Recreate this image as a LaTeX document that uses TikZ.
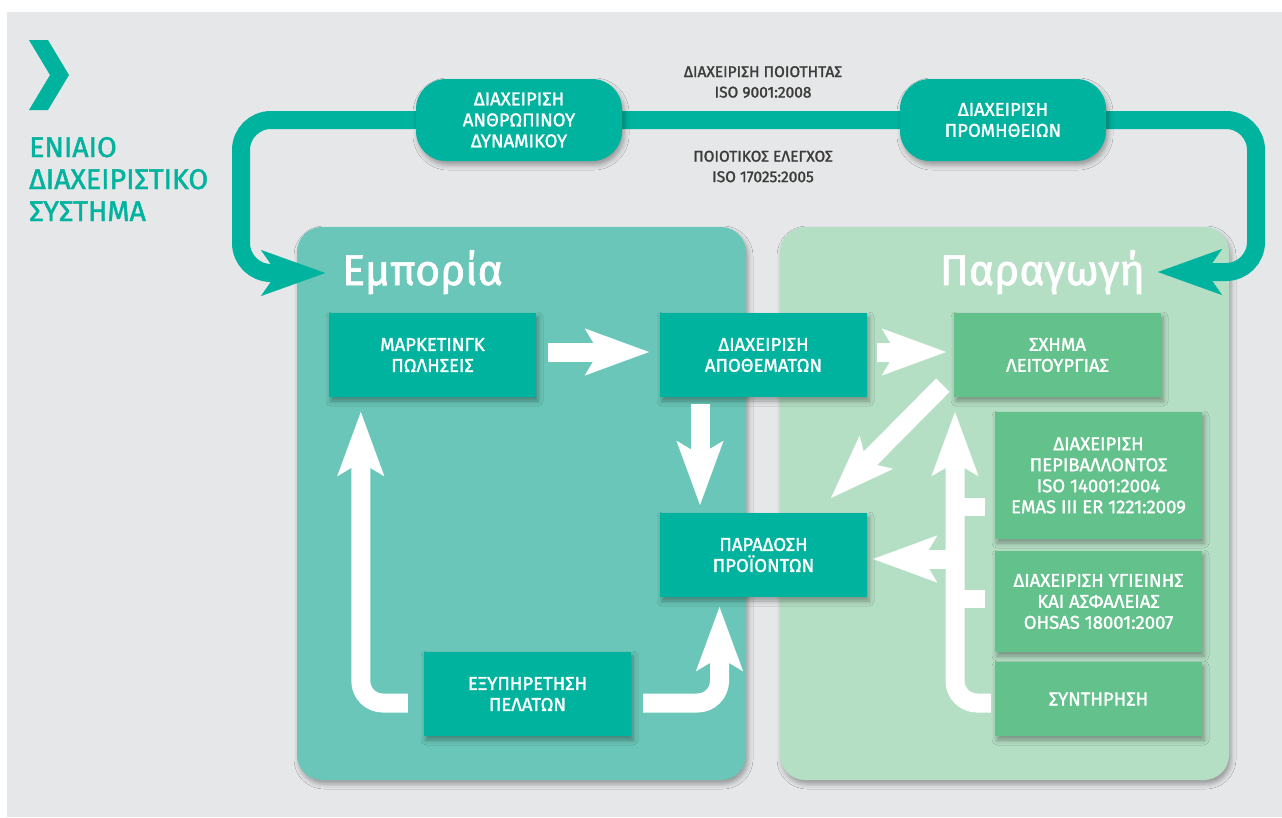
\documentclass[tikz,border=0pt]{standalone}
\usepackage{fontspec}
\setmainfont{Fira Sans}[UprightFeatures={FakeBold=1.6}]
\usetikzlibrary{arrows.meta,shadows.blur,calc}
\definecolor{bgc}{HTML}{E6E7E8}
\definecolor{tealc}{HTML}{00B39E}
\definecolor{empc}{HTML}{69C6B8}
\definecolor{parc}{HTML}{B5DFC4}
\definecolor{grnc}{HTML}{63C18C}
\definecolor{txtc}{HTML}{3C3C3B}
\tikzset{
  shd/.style={blur shadow={shadow xshift=2pt,shadow yshift=-4pt,shadow blur radius=5pt,shadow opacity=35}},
  box/.style={rectangle, fill=tealc, text=white, minimum width=207pt, minimum height=84pt,
    inner sep=0pt, align=center, font=\fontsize{18.5}{21}\selectfont, shd},
  gbox/.style={box, fill=grnc},
  rbox/.style={box, rounded corners=30pt, minimum width=206pt, minimum height=82pt},
  panel/.style={rectangle, rounded corners=25pt, inner sep=0pt, shd},
  wa/.style={draw=white, line width=19pt,
    -{Stealth[length=64pt,width=47pt,inset=14pt,line width=0.1pt]}},
  wac/.style={wa, rounded corners=22pt},
  stub/.style={draw=white, line width=18pt},
  loopline/.style={draw=tealc, line width=18pt, rounded corners=30pt,
    {Stealth[length=64pt,width=46pt,inset=16pt,line width=0.1pt]}-{Stealth[length=64pt,width=46pt,inset=16pt,line width=0.1pt]}},
  ptitle/.style={text=white, inner sep=0pt, font=\fontsize{43}{48}\selectfont},
  small/.style={text=txtc, align=center, inner sep=0pt, font=\fontsize{15.5}{20.5}\selectfont},
}
\begin{document}
\begin{tikzpicture}[x=1pt,y=-1pt]
\useasboundingbox (0,0) rectangle (1282,817);
\fill[white] (0,0) rectangle (1282,817);
\fill[bgc] (7,12) rectangle (1282,817);
% chevron
\fill[tealc] (29,40) -- (48,40) -- (69,75) -- (48,110) -- (29,110) -- (50,75) -- cycle;
\node[anchor=base west, inner sep=0pt, align=left, text=tealc, font=\fontsize{28.5}{32}\selectfont] (title) at (29,221) {ΕΝΙΑΙΟ\\ΔΙΑΧΕΙΡΙΣΤΙΚΟ\\ΣΥΣΤΗΜΑ};
% panels
\node[panel, fill=empc, minimum width=449pt, minimum height=553pt] (emp) at (521.5,503.5) {};
\node[panel, fill=parc, minimum width=449pt, minimum height=553pt] (par0) at (1004.5,503.5) {};
\node[ptitle, anchor=base west] (emptitle) at (342,285) {Εμπορία};
\node[ptitle, anchor=base east] (partitle) at (1145,285) {Παραγωγή};
% top loop
\coordinate (lt) at (325,273);
\coordinate (rt) at (1158,272);
\coordinate (lc) at (241,120);
\coordinate (rc) at (1256,120);
\draw[loopline] (lt) -| (lc) -- (rc) |- (rt);
\node[rbox] (anth) at (519,120) {ΔΙΑΧΕΙΡΙΣΗ\\ΑΝΘΡΩΠΙΝΟΥ\\ΔΥΝΑΜΙΚΟΥ};
\node[rbox] (prom) at (1003,120) {ΔΙΑΧΕΙΡΙΣΗ\\ΠΡΟΜΗΘΕΙΩΝ};
\node[small] (qual) at (763,82) {ΔΙΑΧΕΙΡΙΣΗ ΠΟΙΟΤΗΤΑΣ\\ISO 9001:2008};
\node[small] (ctrl) at (763,166.5) {ΠΟΙΟΤΙΚΟΣ ΕΛΕΓΧΟΣ\\ISO 17025:2005};
% boxes
\node[box] (mkt) at (432.5,355) {ΜΑΡΚΕΤΙΝΓΚ\\ΠΩΛΗΣΕΙΣ};
\node[box] (apo) at (763.5,355) {ΔΙΑΧΕΙΡΙΣΗ\\ΑΠΟΘΕΜΑΤΩΝ};
\node[box] (par) at (763.5,555) {ΠΑΡΑΔΟΣΗ\\ΠΡΟΪΟΝΤΩΝ};
\node[box] (exy) at (527.5,694) {ΕΞΥΠΗΡΕΤΗΣΗ\\ΠΕΛΑΤΩΝ};
\node[gbox] (sxi) at (1057.5,355) {ΣΧΗΜΑ\\ΛΕΙΤΟΥΡΓΙΑΣ};
\node[gbox, minimum height=127pt] (env) at (1098.5,475.5) {ΔΙΑΧΕΙΡΙΣΗ\\ΠΕΡΙΒΑΛΛΟΝΤΟΣ\\ISO 14001:2004\\EMAS III ER 1221:2009};
\node[gbox, minimum height=101pt] (hyg) at (1098.5,601.5) {ΔΙΑΧΕΙΡΙΣΗ ΥΓΙΕΙΝΗΣ\\ΚΑΙ ΑΣΦΑΛΕΙΑΣ\\OHSAS 18001:2007};
\node[gbox, minimum height=74pt] (syn) at (1098.5,699) {ΣΥΝΤΗΡΗΣΗ};
% white arrows
\draw[wa] ([shift={(12,-3)}]mkt.east) -- ([shift={(-11,-3)}]apo.west);
\draw[wa] ([shift={(10,-3)}]apo.east) -- ([shift={(-8,-3)}]sxi.west);
\draw[wa] ([shift={(-63.5,7)}]apo.south) -- ([shift={(-63.5,-8)}]par.north);
\draw[wa] ([shift={(-11,-12)}]sxi.south west) -- ([shift={(-36,-15)}]par.north east);
\draw[stub] ([shift={(-31,31.5)}]env.west) -- ([shift={(-10,31.5)}]env.west);
\draw[stub] ([shift={(-31,-2.5)}]hyg.west) -- ([shift={(-10,-2.5)}]hyg.west);
\draw[wac] ([shift={(-4,4)}]syn.west) -| ([shift={(-102.5,15)}]sxi.south);
\draw[wa] ([shift={(-40,-42.5)}]hyg.west) -- ([shift={(6,4)}]par.east);
\draw[wac] ([shift={(-16,9)}]exy.west) -| ([shift={(32,15)}]mkt.south west);
\draw[wac] ([shift={(12,9)}]exy.east) -| ([shift={(-44,10)}]par.south);
\end{tikzpicture}
\end{document}
